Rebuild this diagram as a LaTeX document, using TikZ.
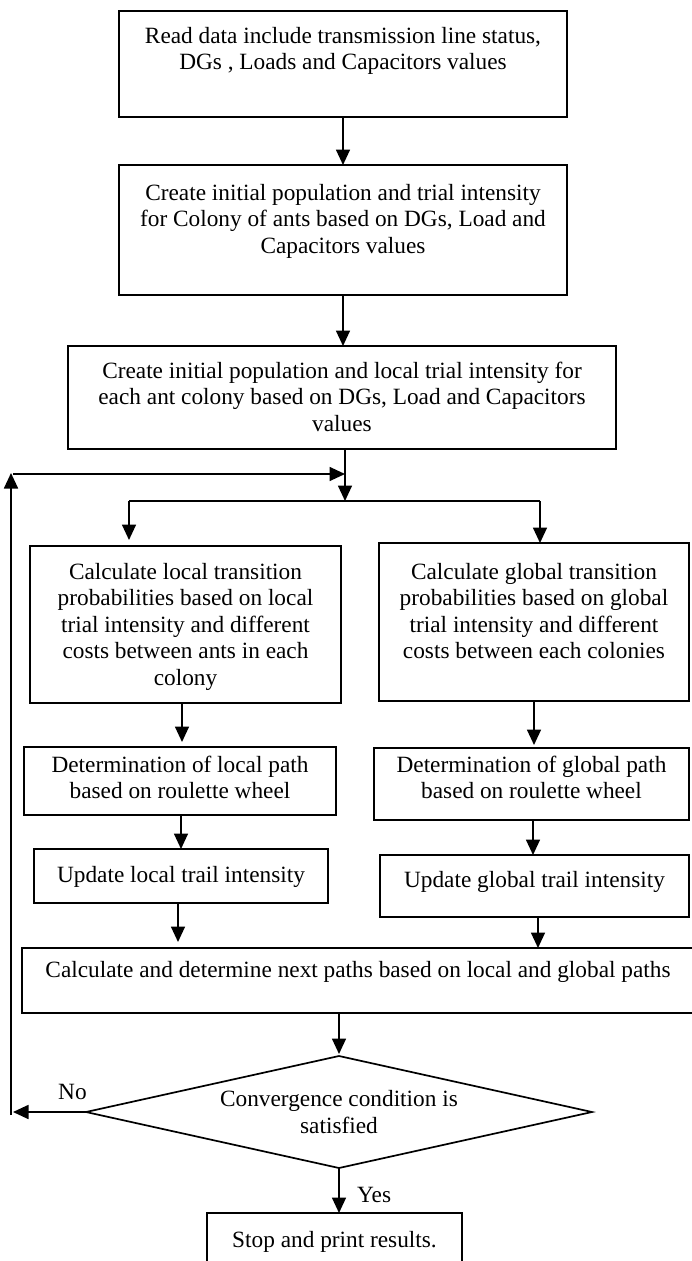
\documentclass[tikz,border=0pt]{standalone}
\usepackage{fontspec}
\setmainfont{Liberation Serif}
\usetikzlibrary{arrows.meta,shapes.geometric}
\newcommand\bxt[4]{\parbox[c][#2][t]{#1}{\centering\rule{0pt}{#3}#4}}
\begin{document}
\begin{tikzpicture}[x=1pt,y=-1pt,
  every node/.style={font=\fontsize{23.3}{26.5}\selectfont},
  box/.style={draw, line width=1.7pt, inner sep=0pt, outer sep=0pt},
  arr/.style={line width=1.7pt, -{Triangle[length=15.5pt,width=14pt]}},
  ln/.style={line width=1.7pt}]
\useasboundingbox (0,0) rectangle (691,1261);

% boxes
\node[box] (b1) at (343,64) {\bxt{448pt}{106pt}{32pt}{Read data include transmission line status,\\DGs , Loads and Capacitors values}};
\node[box] (b2) at (343,230) {\bxt{448pt}{130pt}{35pt}{Create initial population and trial intensity\\for Colony of ants based on DGs, Load and\\Capacitors values}};
\node[box] (b3) at (342,397.5) {\bxt{548pt}{103pt}{32pt}{Create initial population and local trial intensity for\\each ant colony based on DGs, Load and Capacitors\\values}};
\node[box] (L1) at (185.5,624.5) {\bxt{311pt}{157pt}{33pt}{Calculate local transition\\probabilities based on local\\trial intensity and different\\costs between ants in each\\colony}};
\node[box] (R1) at (534,622) {\bxt{310pt}{158pt}{36pt}{Calculate global transition\\probabilities based on global\\trial intensity and different\\costs between each colonies}};
\node[box] (L2) at (180,781) {\bxt{312pt}{68pt}{25pt}{Determination of local path\\based on roulette wheel}};
\node[box] (R2) at (531.5,784) {\bxt{315pt}{72pt}{24pt}{Determination of global path\\based on roulette wheel}};
\node[box] (L3) at (181,876) {\bxt{294pt}{54pt}{33pt}{Update local trail intensity}};
\node[box] (R3) at (534.5,886) {\bxt{309pt}{62pt}{32pt}{Update global trail intensity}};
\node[box] (B) at (358,980.5) {\bxt{672pt}{65pt}{29pt}{Calculate and determine next paths based on local and global paths}};
\node[draw, diamond, line width=1.7pt, inner sep=0pt, outer sep=0pt, aspect=4.5,
      minimum width=506pt, minimum height=112pt, align=center] (d) at (339,1112)
      {Convergence condition is\\satisfied};
\node[box] (stop) at (334.5,1244) {\bxt{255pt}{62pt}{34pt}{Stop and print results.}};

% labels
\node[anchor=base west, inner sep=0pt] (no) at (58,1099) {No};
\node[anchor=base west, inner sep=0pt] (yes) at (357,1202) {Yes};

% coordinates
\coordinate (j1) at (345,474);
\coordinate (j2) at (345,501);
\coordinate (bl) at (129,501);
\coordinate (bR) at (540,501);
\coordinate (cL1) at (182,0);
\coordinate (cL2) at (181,0);
\coordinate (cR2) at (533,0);
\coordinate (cL3) at (178,0);
\coordinate (cR3) at (538,0);
\coordinate (nE) at (13,1112);
\coordinate (lb) at (11,1115);
\coordinate (lt) at (11,473);
\coordinate (ls) at (13,474);

% connectors
\draw[arr] (b1.south) -- (b2.north);
\draw[arr] (b2.south) -- (b2.south |- b3.north);
\draw[arr] (j2 |- b3.south) -- (j2);
\draw[ln] (bl) -- (bR);
\draw[arr, shorten >=6pt] (bl) -- (bl |- L1.north);
\draw[arr] (bR) -- (bR |- R1.north);
\draw[arr, shorten >=5pt] (cL1 |- L1.south) -- (cL1 |- L2.north);
\draw[arr, shorten >=3pt] (R1.south) -- (R1.south |- R2.north);
\draw[arr] (cL2 |- L2.south) -- (cL2 |- L3.north);
\draw[arr] (cR2 |- R2.south) -- (cR2 |- R3.north);
\draw[arr, shorten >=6pt] (cL3 |- L3.south) -- (cL3 |- B.north);
\draw[arr] (cR3 |- R3.south) -- (cR3 |- B.north);
\draw[arr, shorten >=2pt] (d.north |- B.south) -- (d.north);
\draw[arr] (d.west) -- (nE);
\draw[arr] (lb) -- (lt);
\draw[arr] (ls) -- (j1);
\draw[arr] (d.south) -- (d.south |- stop.north);
\end{tikzpicture}
\end{document}
